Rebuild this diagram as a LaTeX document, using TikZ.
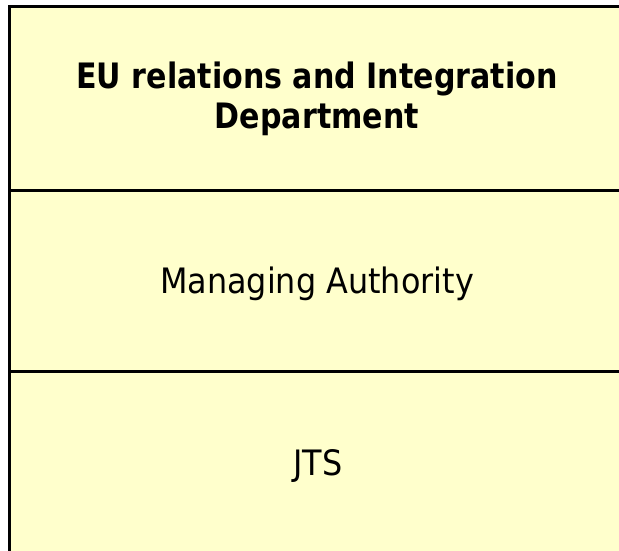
\documentclass[tikz,border=0pt]{standalone}
\usepackage{fontspec}
\setmainfont{DejaVu Sans}[FakeStretch=0.91,BoldFeatures={FakeStretch=0.86}]
\definecolor{paleyellow}{HTML}{FFFFCC}
\tikzset{
  rowbox/.style={draw=black, line width=3pt, fill=paleyellow, minimum width=616pt, inner sep=0pt, outer sep=0pt},
  rowlabel/.style={font=\fontsize{35}{40}\selectfont, align=center, inner sep=0pt, anchor=base}
}
\begin{document}
\begin{tikzpicture}[x=1pt,y=-1pt]
\useasboundingbox (0,0) rectangle (619,550);
\clip (0,0) rectangle (619,550);
\node[rowbox, minimum height=184pt] (eu) at (317,98) {};
\node[rowbox, minimum height=181pt] (ma) at (317,280.5) {};
\node[rowbox, minimum height=181pt] (jts) at (317,461.5) {};
\node[rowlabel, font=\fontsize{35}{40}\selectfont\bfseries] (eutext) at (317,128) {EU relations and Integration\\Department};
\node[rowlabel] (matext) at (317,293) {Managing Authority};
\node[rowlabel] (jtstext) at (318,475) {JTS};
\end{tikzpicture}
\end{document}
